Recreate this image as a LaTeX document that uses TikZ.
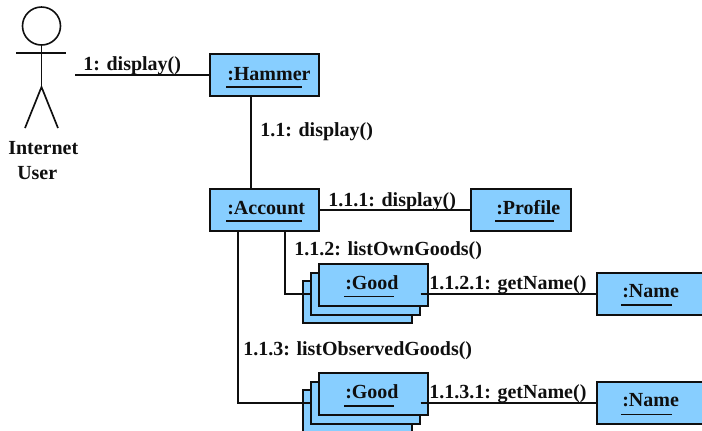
\documentclass[tikz,border=0pt]{standalone}
\usepackage{fontspec}
\setmainfont{Liberation Serif}
\definecolor{boxblue}{RGB}{135,206,255}
\definecolor{ink}{RGB}{15,15,15}
\tikzset{
  x=0.75pt,y=-0.75pt,
  line/.style={draw=ink,line width=1.25pt},
  box/.style={rectangle,draw=ink,fill=boxblue,line width=1.25pt,inner sep=0pt,anchor=north west,minimum height=31.5pt},
  wide/.style={box,minimum width=81.75pt},
  txt/.style={anchor=base west,inner sep=0pt,font=\fontsize{15pt}{17pt}\selectfont\bfseries,text=ink},
  uline/.style={draw=ink,line width=1.25pt},
}
\begin{document}
\begin{tikzpicture}
\useasboundingbox (0,0) rectangle (702,430);
\clip (0,0) rectangle (702,430);
% actor
\coordinate (hip) at (41.5,87);
\coordinate (armL) at (16,53);
\coordinate (armR) at (66,53);
\coordinate (footL) at (25,128);
\coordinate (footR) at (58,128);
\node[circle,draw=ink,line width=1.2pt,minimum size=28.5pt,inner sep=0pt] (head) at (41.5,26) {};
\draw[line] (head.south) -- (hip);
\draw[line] (armL) -- (armR);
\draw[line] (footL) -- (hip) -- (footR);
\node[txt] (actorA) at (8,154.5) {Internet};
\node[txt] (actorB) at (17,179.5) {User};
% boxes
\node[wide] (hammer) at (209,53) {};
\node[wide] (account) at (209,188) {};
\node[box,minimum width=75pt] (profile) at (470,188) {};
\node[box,minimum width=90pt] (name1) at (596,272) {};
\node[box,minimum width=90pt] (name2) at (596,381) {};
\node[wide] (goodA3) at (302,280) {};
\node[wide] (goodA2) at (310,272) {};
\node[wide] (goodA1) at (318,263) {};
\node[wide] (goodB3) at (302,389) {};
\node[wide] (goodB2) at (310,381) {};
\node[wide] (goodB1) at (318,372) {};
% connectors
\coordinate (actorEnd) at (75,75);
\coordinate (acctA) at (285,230);
\coordinate (acctB) at (238,230);
\draw[line] (actorEnd) -- (hammer.west |- actorEnd);
\draw[line] (hammer.south -| 251,0) -- (account.north -| 251,0);
\draw[line] (account.east) -- (profile.west);
\draw[line] (acctA) |- (goodA2.west);
\draw[line] (acctB) |- (goodB2.west);
\draw[line] (goodA2.east) -- (name1.west);
\draw[line] (goodB2.east) -- (name2.west);
% box texts
\node[txt] (tHammer) at (227,80) {:Hammer};
\node[txt] (tAccount) at (227,214.5) {:Account};
\node[txt] (tProfile) at (496,214.5) {:Profile};
\node[txt] (tGoodA) at (345,289) {:Good};
\node[txt] (tGoodB) at (345,398) {:Good};
\node[txt] (tNameA) at (622,297.5) {:Name};
\node[txt] (tNameB) at (622,406.5) {:Name};
\coordinate (uH) at (226,87);
\coordinate (uA) at (226,221);
\coordinate (uP) at (495,221);
\coordinate (uG1) at (344,296.5);
\coordinate (uG2) at (344,406);
\coordinate (uN1) at (621,305);
\coordinate (uN2) at (621,414.5);
\draw[uline] (uH) -- ++(76,0);
\draw[uline] (uA) -- ++(76,0);
\draw[uline] (uP) -- ++(59,0);
\draw[uline] (uG1) -- ++(50,0);
\draw[uline] (uG2) -- ++(50,0);
\draw[uline] (uN1) -- ++(51,0);
\draw[uline] (uN2) -- ++(51,0);
% message labels
\node[txt] (m1) at (83,70) {1: display()};
\node[txt] (m2) at (260,136) {1.1: display()};
\node[txt] (m3) at (328,206) {1.1.1: display()};
\node[txt] (m4) at (294,255) {1.1.2: listOwnGoods()};
\node[txt] (m5) at (429,289) {1.1.2.1: getName()};
\node[txt] (m6) at (243,355) {1.1.3: listObservedGoods()};
\node[txt] (m7) at (429,398) {1.1.3.1: getName()};
\end{tikzpicture}
\end{document}
